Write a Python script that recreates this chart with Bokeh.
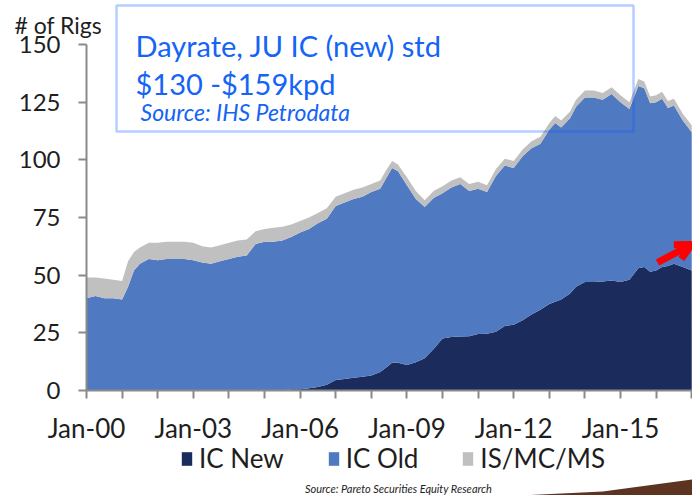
from bokeh.plotting import figure
from bokeh.models import (Range1d, FixedTicker, Legend, LegendItem, Label, BoxAnnotation,
                          Arrow, OpenHead, PolyAnnotation, ColumnDataSource)
from bokeh.embed import file_html
from bokeh.resources import INLINE

months = ["2000-01", "2000-04", "2000-07", "2000-10", "2001-01", "2001-03", "2001-05", "2001-07",
          "2001-10", "2002-01", "2002-04", "2002-07", "2002-10", "2003-01", "2003-04", "2003-07",
          "2003-10", "2004-01", "2004-04", "2004-07", "2004-10", "2005-01", "2005-04", "2005-07",
          "2005-10", "2006-01", "2006-04", "2006-07", "2006-10", "2007-01", "2007-04", "2007-07",
          "2007-10", "2008-01", "2008-04", "2008-06", "2008-08", "2008-10", "2009-01", "2009-04",
          "2009-07", "2009-10", "2010-01", "2010-04", "2010-07", "2010-10", "2011-01", "2011-04",
          "2011-07", "2011-10", "2012-01", "2012-04", "2012-07", "2012-10", "2013-01", "2013-03",
          "2013-05", "2013-08", "2013-10", "2014-01", "2014-04", "2014-07", "2014-10", "2015-01",
          "2015-04", "2015-07", "2015-09", "2015-11", "2016-01", "2016-03", "2016-05", "2016-07",
          "2016-10", "2017-01"]

ic_new = [0, 0, 0, 0, 0, 0, 0, 0,
          0, 0, 0, 0, 0, 0, 0, 0,
          0, 0, 0, 0, 0, 0, 0, 0,
          0.5, 0.5, 1, 1.5, 2.5, 4.5, 5, 5.5,
          6, 6.5, 8, 10, 12, 12, 11, 12.3,
          14, 18, 22.5, 23.2, 23.4, 23.5, 24.5, 24.6,
          25.5, 28, 28.5, 30.5, 33, 35, 37.5, 38.5,
          39.5, 42, 45, 47, 47, 47.2, 47.7, 47,
          48, 53, 53.5, 51.5, 52, 53.5, 54, 55,
          53.5, 52]

ic_old = [40, 41, 40, 40, 39.5, 45, 52, 55,
          57, 56.5, 57, 57, 57, 56.5, 55.5, 55,
          56, 57, 58, 58.5, 63.5, 64.5, 64.5, 65,
          66, 68, 69, 71, 72, 75.5, 76.5, 77.5,
          78, 79.5, 79.5, 82, 84.5, 83, 78, 70.7,
          65.5, 65.5, 63, 64.8, 66.1, 63, 63, 61.4,
          67.5, 69.5, 68, 71, 72, 72, 75.5, 77.5,
          74.5, 76, 78, 80, 80, 78.8, 80.8, 78,
          74, 79, 77.5, 73, 73, 73, 68.5, 68.5,
          63.5, 60]

is_mc_ms = [9, 8, 8.5, 8, 8, 11, 8, 7,
            7, 7.5, 7.5, 7.5, 7.5, 7.5, 7, 7,
            7, 7, 7, 7, 5.5, 5.5, 6, 6,
            5.5, 5, 5, 4.5, 4.5, 4, 4, 4,
            4, 3.5, 3.5, 3.5, 3, 3, 3.5, 3.5,
            3, 3, 3, 3, 3, 3, 3, 3,
            3, 3, 3, 3, 3, 3, 3, 3,
            3, 3, 3, 3, 3, 3, 3, 3,
            3, 3, 3, 3, 3, 3, 3, 3,
            3, 3]

series_names = ["IC New", "IC Old", "IS/MC/MS"]
series_colors = ["#1b2c5c", "#4f79c0", "#c0c0c0"]
y_ticks = [0, 25, 50, 75, 100, 125, 150]
x_tick_years = list(range(2000, 2018))
x_tick_labels = {2000: "Jan-00", 2003: "Jan-03", 2006: "Jan-06", 2009: "Jan-09",
                 2012: "Jan-12", 2015: "Jan-15"}

x = [int(m[:4]) + (int(m[5:]) - 1) / 12 for m in months]
source = ColumnDataSource(dict(x=x, ic_new=ic_new, ic_old=ic_old, is_mc_ms=is_mc_ms))

FONT = "Lato"
TXT = "#1e1e1e"
BLUE_TXT = "#1464f5"
AXIS = "#8a8a8a"

p = figure(width=692, height=495, output_backend="svg", toolbar_location=None,
           x_range=Range1d(1997.584, 2017.022), y_range=Range1d(-45.52, 169.07),
           min_border=0)
p.outline_line_color = None
p.grid.visible = False
p.background_fill_color = "white"
p.border_fill_color = "white"

rs = p.varea_stack(["ic_new", "ic_old", "is_mc_ms"], x="x", source=source, color=series_colors)

# y axis (drawn at Jan-00)
ya = p.yaxis[0]
ya.fixed_location = 2000
ya.ticker = FixedTicker(ticks=y_ticks)
ya.bounds = (0, 150)
ya.axis_line_color = AXIS
ya.axis_line_width = 2
ya.major_tick_line_color = AXIS
ya.major_tick_line_width = 2
ya.major_tick_out = 8
ya.major_tick_in = 0
ya.minor_tick_line_color = None
ya.major_label_text_font = FONT
ya.major_label_text_font_size = "24px"
ya.major_label_text_color = TXT
ya.major_label_standoff = 18

# x axis (drawn at 0)
xa = p.xaxis[0]
xa.fixed_location = 0
xa.ticker = FixedTicker(ticks=x_tick_years)
xa.bounds = (2000, 2017.022)
xa.major_label_overrides = {yr: x_tick_labels.get(yr, "") for yr in x_tick_years}
xa.axis_line_color = AXIS
xa.axis_line_width = 2
xa.major_tick_line_color = AXIS
xa.major_tick_line_width = 2
xa.major_tick_out = 8
xa.major_tick_in = 0
xa.minor_tick_line_color = None
xa.major_label_text_font = FONT
xa.major_label_text_font_size = "26px"
xa.major_label_text_color = TXT
xa.major_label_standoff = 14

legend = Legend(items=[LegendItem(label=n, renderers=[r]) for n, r in zip(series_names, rs)],
                orientation="horizontal", location=(180, 21),
                border_line_color=None, background_fill_alpha=0,
                label_text_font=FONT, label_text_font_size="26px", label_text_color=TXT,
                glyph_width=13, glyph_height=17, label_standoff=6, spacing=43,
                padding=0, margin=0)
p.add_layout(legend, "center")

p.add_layout(Label(x=2008.764, y=-42.3, text="Source: Pareto Securities Equity Research",
                   text_font=FONT, text_font_style="italic", text_font_size="11px",
                   text_color=TXT, text_align="center", text_baseline="alphabetic"))

# annotation box
p.add_layout(BoxAnnotation(left=2000.843, right=2015.365, bottom=112.28, top=166.9,
                           fill_alpha=0, line_color="#0a5cff", line_width=2.5))
p.add_layout(Label(x=2001.376, y=149.56, text="Dayrate, JU IC (new) std", text_font=FONT,
                   text_font_size="29px", text_color=BLUE_TXT, text_baseline="alphabetic"))
p.add_layout(Label(x=2001.376, y=133.09, text="$130 -$159kpd", text_font=FONT,
                   text_font_size="29px", text_color=BLUE_TXT, text_baseline="alphabetic"))
p.add_layout(Label(x=2001.517, y=120.52, text="Source: IHS Petrodata", text_font=FONT,
                   text_font_size="23px", text_font_style="italic", text_color=BLUE_TXT,
                   text_baseline="alphabetic"))
p.add_layout(Label(x=1997.978, y=158.3, text="# of Rigs", text_font=FONT,
                   text_font_size="23px", text_color=TXT, text_baseline="alphabetic"))

# red arrow
p.add_layout(Arrow(x_start=2016.04, y_start=55.5, x_end=2017.0, y_end=63.3,
                   line_color="#ff0000", line_width=7,
                   end=OpenHead(line_color="#ff0000", line_width=7, size=16)))

# decorative swoosh
p.add_layout(PolyAnnotation(xs=[2012.2, 2014.5, 2017.03, 2017.03],
                            ys=[-45.5, -43.8, -38.5, -45.6],
                            fill_color="#4b1d0a", fill_alpha=0.9, line_color=None))

open("out.html", "w").write(file_html(p, INLINE))
